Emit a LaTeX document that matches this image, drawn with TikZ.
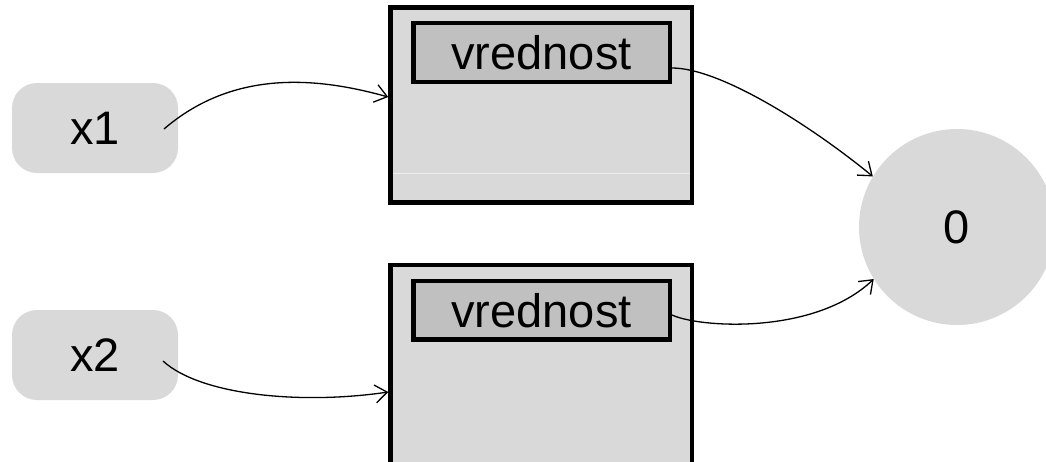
\documentclass[tikz,border=0pt]{standalone}
\usepackage{fontspec}
\setmainfont{Liberation Sans}
\usetikzlibrary{arrows.meta}
\definecolor{boxgray}{HTML}{D9D9D9}
\definecolor{fieldgray}{HTML}{C0C0C0}
\definecolor{faintline}{HTML}{EEEEEE}
\begin{document}
\begin{tikzpicture}[x=1pt,y=-1pt,
  varbox/.style={rectangle, rounded corners=25pt, fill=boxgray, minimum width=166pt, minimum height=90pt, inner sep=0pt, font=\fontsize{47}{50}\selectfont},
  objbox/.style={rectangle, draw=black, line width=4.5pt, fill=boxgray, minimum width=301.5pt, minimum height=194.8pt, inner sep=0pt},
  fieldbox/.style={rectangle, draw=black, line width=4.5pt, fill=fieldgray, minimum width=256.5pt, minimum height=58.8pt, inner sep=0pt, font=\fontsize{47}{50}\selectfont},
  valnode/.style={circle, fill=boxgray, minimum size=196pt, inner sep=0pt, font=\fontsize{47}{50}\selectfont},
  ref/.style={line width=1.3pt, -{Straight Barb[length=12pt,width=18pt]}}
]
\clip (0,0) rectangle (1046,461);
\useasboundingbox (0,0) rectangle (1046,461);
% object boxes
\node[objbox] (o1) at (541.25,105.1) {};
\draw[faintline, line width=1pt] (393,173) -- (690,173);
\node[objbox, minimum height=240pt] (o2) at (541.25,385) {};
% fields
\node[fieldbox] (f1) at (541.55,52.4) {vrednost};
\node[fieldbox] (f2) at (541.55,310.3) {vrednost};
% variables
\node[varbox] (x1) at (95,128) {x1};
\node[varbox] (x2) at (95,355) {x2};
% value
\node[valnode] (v) at (957,227) {0};
% connectors
\coordinate (s1) at (164,129);
\coordinate (s2) at (163,361);
\coordinate (e1) at (o1.west |- 0,97);
\coordinate (e2) at (o2.west |- 0,392);
\coordinate (t1) at (f1.east |- 0,68);
\coordinate (t2) at (f2.east |- 0,315);
\coordinate (c1) at (v.149);
\coordinate (c2) at (v.212);
\draw[ref] (s1) .. controls (235,68) and (320,78) .. (e1);
\draw[ref] (s2) .. controls (200,395) and (300,405) .. (e2);
\draw[ref] (t1) .. controls (720,68) and (810,125) .. (c1);
\draw[ref] (t2) .. controls (700,328) and (815,335) .. (c2);
\end{tikzpicture}
\end{document}
